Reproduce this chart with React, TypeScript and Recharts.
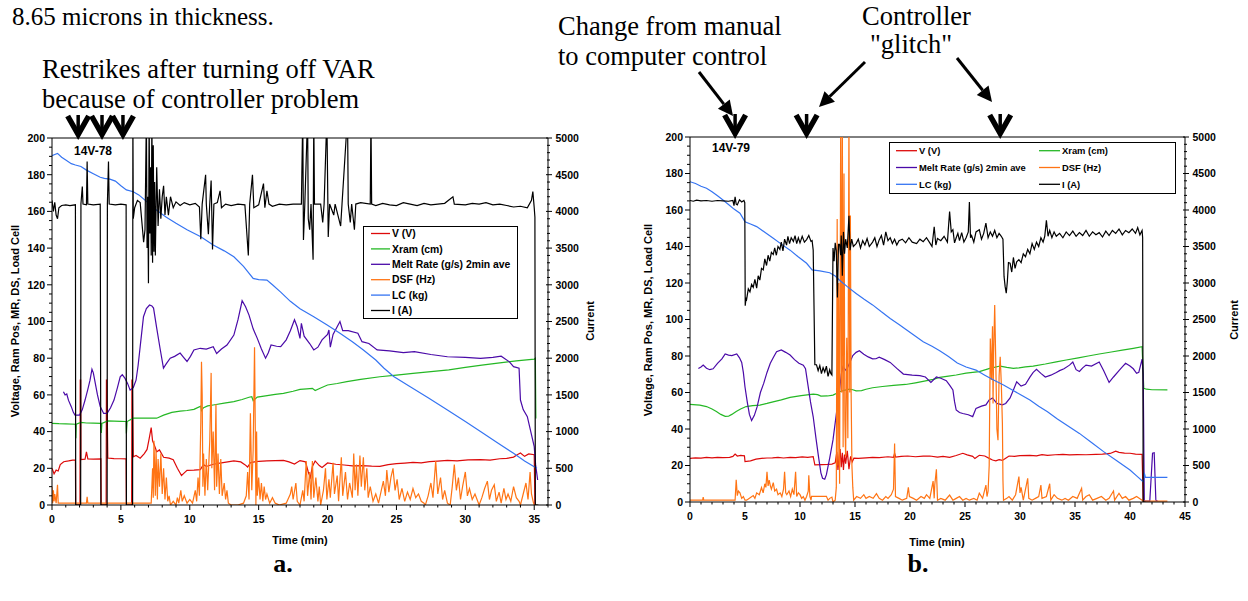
import React from "react";
import { LineChart, Line, XAxis, YAxis, ReferenceLine, ReferenceDot, Legend } from "recharts";

type Pt = [number, number];

const SANS = '"Liberation Sans", Arial, sans-serif';
const SERIF = '"Liberation Serif", "Times New Roman", serif';

// series names / colours, same order in both runs
const seriesNames = ["V (V)", "Xram (cm)", "Melt Rate (g/s) 2min ave", "DSF (Hz)", "LC (kg)", "I (A)"];
const seriesColors = ["#dd0a0a", "#25b825", "#4a0aa8", "#ff7414", "#3574f2", "#000000"];

// tick labels
const yLeftLabels = [0, 20, 40, 60, 80, 100, 120, 140, 160, 180, 200];
const yRightLabels = [0, 500, 1000, 1500, 2000, 2500, 3000, 3500, 4000, 4500, 5000];
const xLabelsA = [0, 5, 10, 15, 20, 25, 30, 35];
const xLabelsB = [0, 5, 10, 15, 20, 25, 30, 35, 40, 45];

// ---------------- run 14V-78 (a) ----------------
const aV: Pt[] = [
  [0, 20], [0.15, 17], [0.3, 19], [0.45, 18.5], [0.6, 22], [0.85, 23.6], [1.2, 24], [1.5, 24.5], [1.7, 24.5], [1.72, 0],
  [2.03, 0], [2.05, 68], [2.08, 68], [2.1, 24.7], [2.4, 25], [2.5, 28.9], [2.6, 25.1], [3.0, 25], [3.55, 25.1], [3.57, 0],
  [3.93, 0], [3.95, 68], [3.98, 68], [4.05, 25.6], [4.5, 25.3], [5.0, 25.2], [5.38, 25.1], [5.4, 0], [5.78, 0], [5.8, 68],
  [5.83, 68], [5.9, 26.3], [6.1, 27], [6.4, 25.5], [6.7, 28], [6.9, 30.3], [7.05, 36], [7.2, 42.2], [7.3, 35], [7.45, 32.2],
  [7.6, 29], [7.8, 30], [8.1, 26], [8.5, 25.5], [8.8, 24.7], [9.1, 20], [9.4, 16.1], [9.6, 17.5], [9.8, 18.9], [10.3, 19],
  [10.76, 19.3], [11.0, 22], [11.2, 21], [11.7, 22.2], [12.3, 23], [13.2, 24], [13.7, 23.5], [14.0, 22], [14.2, 20.7], [14.4, 23],
  [14.6, 23.4], [15.0, 23.8], [15.6, 24], [16.2, 24.2], [16.8, 24.3], [17.2, 23.5], [17.6, 22.3], [18.0, 24.2], [18.4, 23.5], [18.6, 18],
  [18.75, 15], [18.9, 21], [19.1, 24], [19.4, 21.5], [19.6, 20.5], [20.0, 22.9], [20.6, 22.2], [21.2, 21.8], [21.8, 21.3], [22.5, 21.5],
  [23.2, 21.2], [23.8, 21.1], [24.4, 22], [25.0, 22.5], [25.6, 22.8], [26.2, 23.2], [26.8, 23], [27.4, 23.6], [28.0, 23.9], [28.7, 24.3],
  [29.4, 24.1], [30.2, 24.6], [31.1, 24.7], [31.8, 24.5], [32.5, 25.2], [33.0, 25.4], [33.5, 26.1], [33.8, 27.5], [34.0, 28.3], [34.3, 26.5],
  [34.6, 27.8], [35.0, 27.4], [35.05, 0],
];
const aXram: Pt[] = [
  [0, 44.5], [0.5, 44.3], [1.0, 44.2], [1.7, 44], [1.73, 36.3], [1.76, 44], [2.1, 45], [2.5, 44.7], [3.0, 44.6], [3.55, 44.5],
  [3.58, 39.3], [3.62, 44.5], [4.05, 45.8], [4.5, 45.7], [5.0, 45.6], [5.38, 45.5], [5.4, 39], [5.45, 45.5], [5.9, 47.3], [6.5, 47.3],
  [7.0, 47.3], [7.6, 47.3], [8.1, 49], [8.7, 50.5], [9.3, 51.2], [9.8, 51.5], [10.3, 52.1], [10.8, 53.9], [10.85, 51.5], [11.0, 53],
  [11.3, 54], [11.7, 54.5], [12.5, 55.5], [13.2, 56.3], [13.8, 57.5], [14.3, 58.7], [14.5, 59], [14.6, 56.8], [14.9, 58.8], [15.5, 59.5],
  [16.2, 60.3], [16.8, 60.8], [17.5, 62], [18.0, 63], [18.5, 63.3], [18.9, 63.6], [19.1, 62.4], [19.5, 63.8], [20.0, 65.4], [20.7, 66.2],
  [21.4, 67.2], [22.4, 68.5], [23.8, 69.9], [25.0, 70.8], [26.2, 71.7], [27.5, 72.7], [28.8, 73.6], [30, 75], [31.2, 76.2], [32.5, 77.5],
  [33.7, 78.5], [35.0, 79.5], [35.08, 80], [35.12, 47.2],
];
const aMelt: Pt[] = [
  [0.83, 61.7], [0.95, 60], [1.07, 60.5], [1.2, 57], [1.4, 53.6], [1.55, 50.5], [1.67, 49], [2.0, 49], [2.2, 52], [2.4, 57.2],
  [2.6, 63], [2.76, 68], [2.9, 74], [3.0, 72], [3.15, 66], [3.3, 60], [3.5, 53.6], [3.75, 49.9], [4.0, 49.9], [4.25, 53],
  [4.5, 57.2], [4.75, 64], [4.95, 69.9], [5.1, 71], [5.3, 69], [5.5, 66], [5.67, 62.6], [5.9, 64], [6.1, 68], [6.25, 76],
  [6.4, 86.3], [6.64, 102.6], [6.85, 107], [7.08, 109], [7.25, 108.5], [7.37, 107.3], [7.6, 96.4], [7.85, 85], [8.09, 74.6], [8.3, 77],
  [8.58, 80], [8.9, 81], [9.3, 82.8], [9.55, 80.5], [9.8, 78.2], [10.05, 81], [10.3, 84.5], [10.76, 85.4], [11.2, 85], [11.7, 86.3],
  [11.95, 82.6], [12.3, 85], [12.7, 87.2], [13.2, 92.6], [13.5, 101], [13.8, 111.3], [14.05, 108], [14.3, 103.5], [14.6, 96], [14.9, 90.8],
  [15.2, 85], [15.5, 80], [15.7, 83], [15.9, 87.2], [16.3, 86.5], [16.6, 86.3], [17.0, 90], [17.3, 95], [17.6, 101], [17.8, 97],
  [18.0, 90.8], [18.1, 99], [18.3, 92], [18.7, 88], [19.0, 84.5], [19.3, 86], [19.6, 90], [20.0, 93], [20.1, 95.4], [20.2, 86],
  [20.4, 93], [20.9, 100], [21.1, 95], [21.5, 95], [22.2, 93.6], [22.5, 89], [23.0, 88], [23.6, 84.5], [24.5, 84], [25.5, 83],
  [26.3, 83.6], [27.5, 82], [28.7, 80.8], [30, 80.5], [31.1, 79.9], [32.0, 80.5], [32.6, 81.1], [33.2, 78], [33.5, 75.4], [33.9, 74.5],
  [34.0, 57.2], [34.2, 52], [34.5, 48.1], [34.75, 40], [35.0, 31.8], [35.1, 22], [35.25, 13.6],
];
const aDsf: Pt[] = [
  [0, 10], [0.05, 1], [0.1, 8], [0.15, 2], [0.2, 6], [0.3, 1], [0.4, 11], [0.45, 1], [1.0, 1], [1.7, 1],
  [2.5, 1], [2.55, 4.5], [2.6, 1], [3.5, 1], [5, 1], [6, 1], [7.2, 1], [7.3, 20], [7.35, 4], [7.4, 35],
  [7.5, 5], [7.55, 30], [7.65, 3], [7.7, 25], [7.8, 10], [7.9, 28], [8.0, 6], [8.1, 20], [8.2, 3], [8.3, 15],
  [8.4, 2], [8.5, 5], [8.6, 0], [8.8, 2], [9.0, 0], [9.1, 4], [9.2, 1], [9.35, 8], [9.45, 2], [9.6, 5],
  [9.8, 1], [10.0, 3], [10.2, 1], [10.4, 8], [10.5, 2], [10.6, 15], [10.7, 5], [10.8, 45], [10.85, 78], [10.9, 60],
  [10.95, 10], [11.0, 28], [11.1, 5], [11.2, 25], [11.3, 8], [11.45, 35], [11.55, 72], [11.6, 20], [11.7, 40], [11.8, 8],
  [11.9, 55], [11.95, 10], [12.05, 28], [12.15, 6], [12.25, 25], [12.35, 5], [12.5, 12], [12.6, 3], [12.7, 8], [12.8, 1],
  [13.0, 0], [13.5, 0], [13.9, 1], [14.1, 5], [14.2, 18], [14.3, 3], [14.4, 50], [14.5, 8], [14.6, 30], [14.7, 86],
  [14.75, 45], [14.8, 0], [14.85, 40], [14.9, 5], [15.0, 15], [15.1, 3], [15.2, 12], [15.3, 2], [15.4, 10], [15.5, 3],
  [15.6, 6], [15.8, 1], [16.0, 4], [16.2, 1], [16.5, 0], [17.0, 1], [17.3, 6], [17.4, 10], [17.5, 3], [17.7, 12],
  [17.8, 2], [18.0, 0], [18.2, 8], [18.3, 2], [18.45, 24], [18.55, 5], [18.7, 18], [18.8, 3], [18.9, 24], [19.0, 4],
  [19.15, 15], [19.3, 2], [19.4, 10], [19.5, 0], [19.7, 8], [19.85, 20], [19.95, 3], [20.1, 14], [20.2, 4], [20.4, 23],
  [20.5, 6], [20.7, 16], [20.8, 2], [21.0, 26], [21.1, 5], [21.3, 18], [21.45, 3], [21.6, 12], [21.8, 4], [21.9, 28],
  [22.0, 8], [22.1, 22], [22.2, 5], [22.35, 27], [22.45, 10], [22.6, 26], [22.7, 8], [22.85, 20], [22.95, 4], [23.1, 10],
  [23.3, 2], [23.5, 6], [23.7, 1], [23.9, 8], [24.05, 13], [24.2, 5], [24.3, 19], [24.45, 7], [24.6, 15], [24.75, 20],
  [24.9, 8], [25.05, 14], [25.2, 3], [25.4, 9], [25.6, 2], [25.8, 7], [26.0, 3], [26.2, 9], [26.4, 4], [26.6, 6],
  [26.8, 2], [27.0, 1], [27.1, 0], [27.3, 5], [27.5, 12], [27.65, 4], [27.85, 24], [28.0, 6], [28.2, 15], [28.35, 3],
  [28.5, 8], [28.7, 1], [28.9, 0], [29.05, 10], [29.2, 22], [29.35, 8], [29.5, 15], [29.65, 3], [29.8, 10], [30.0, 18],
  [30.15, 5], [30.3, 9], [30.5, 3], [30.7, 6], [31.0, 0], [31.2, 4], [31.4, 9], [31.6, 13], [31.75, 3], [31.9, 8],
  [32.1, 11], [32.25, 2], [32.45, 7], [32.6, 1], [32.8, 9], [32.95, 3], [33.1, 6], [33.3, 2], [33.5, 10], [33.7, 4],
  [33.9, 2], [34.0, 0], [34.2, 6], [34.4, 12], [34.55, 3], [34.7, 18], [34.8, 6], [34.95, 1], [35.0, 0], [35.2, 0],
];
const aLc: Pt[] = [
  [0, 190.4], [0.2, 191], [0.4, 191.6], [0.7, 189.5], [1.0, 188], [1.4, 186], [1.7, 185.3], [2.1, 184.5], [2.5, 182.5], [3.0, 180.5],
  [3.5, 178.6], [3.8, 178], [4.2, 177.6], [4.6, 176.5], [5.0, 174], [5.4, 171.7], [5.9, 170.7], [6.3, 169], [6.6, 167.1], [7.0, 164.5],
  [7.4, 161.7], [7.9, 159], [8.3, 156.8], [9.0, 153.5], [9.8, 150], [10.8, 146.2], [11.7, 141.7], [12.5, 138.5], [13.2, 135.3], [13.9, 130],
  [14.6, 123.5], [15.0, 122.8], [15.6, 122.6], [16.0, 120], [16.6, 116], [17.3, 111], [18.0, 107], [19.0, 102.6], [20.0, 98], [20.9, 93.6],
  [21.8, 89], [22.6, 84.5], [23.5, 79], [24.1, 74.5], [24.8, 70], [26.0, 64.5], [27.3, 58.5], [28.7, 51.8], [30.0, 45.5], [31.1, 40],
  [32.3, 34], [33.5, 28.2], [34.3, 24], [35.0, 20.9], [35.2, 20],
];
const aCurrent: Pt[] = [
  [0, 4150], [0.1, 4000], [0.2, 4125], [0.3, 3950], [0.4, 3900], [0.5, 4050], [0.7, 4080], [1, 4090], [1.3, 4080], [1.7, 4090],
  [1.72, 0], [2.08, 0], [2.1, 4100], [2.2, 4340], [2.25, 4100], [2.5, 4090], [2.55, 4680], [2.6, 4100], [3.0, 4090], [3.5, 4100],
  [3.55, 0], [4.0, 0], [4.02, 4100], [4.1, 4680], [4.15, 4100], [4.6, 4090], [5.0, 4100], [5.38, 4090], [5.4, 0], [5.85, 0],
  [5.87, 5300], [5.9, 3900], [6.0, 4050], [6.2, 4150], [6.4, 4120], [6.55, 3800], [6.65, 3580], [6.75, 3750], [6.85, 5300], [6.9, 3500],
  [6.95, 4200], [7.0, 3020], [7.05, 5300], [7.1, 3700], [7.15, 4600], [7.2, 3400], [7.25, 5300], [7.3, 3300], [7.35, 4900], [7.4, 3450],
  [7.45, 4400], [7.5, 3400], [7.6, 4600], [7.7, 3800], [7.8, 4300], [7.9, 3900], [8.0, 4200], [8.1, 4350], [8.2, 3950], [8.3, 4200],
  [8.45, 3950], [8.6, 4200], [8.8, 4050], [9.0, 4130], [9.3, 4080], [9.6, 4120], [10.0, 4090], [10.4, 4110], [10.7, 4060], [10.8, 3620],
  [10.9, 4100], [11.15, 4500], [11.2, 4100], [11.35, 3690], [11.45, 4100], [11.55, 4420], [11.65, 3480], [11.75, 4100], [12.0, 4120], [12.2, 4280],
  [12.3, 4050], [12.6, 4100], [13.0, 4080], [13.5, 4100], [14.0, 4090], [14.25, 3400], [14.35, 4100], [14.55, 4500], [14.65, 4050], [15.0, 4090],
  [15.35, 4380], [15.45, 4050], [15.6, 4280], [15.75, 4100], [16, 4070], [16.5, 4100], [17, 4090], [17.5, 4100], [18.1, 4100], [18.2, 5300],
  [18.25, 3610], [18.35, 4100], [18.55, 5300], [18.6, 3900], [18.7, 3750], [18.8, 4100], [18.95, 3340], [19.0, 5300], [19.05, 4100], [19.5, 4100],
  [19.65, 3850], [19.75, 4100], [19.95, 5300], [20.05, 3650], [20.15, 4100], [20.45, 3950], [20.55, 4100], [20.95, 3800], [21.05, 4100], [21.45, 5300],
  [21.5, 4100], [21.65, 3850], [21.75, 4100], [21.95, 3750], [22.05, 4100], [22.4, 4120], [23.1, 4100], [23.15, 5300], [23.2, 4100], [23.5, 4080],
  [24, 4110], [24.5, 4090], [25, 4080], [25.5, 4120], [26, 4100], [26.5, 4080], [27, 4110], [27.5, 4090], [28, 4100], [28.5, 4110],
  [29.1, 4200], [29.2, 4100], [30, 4090], [30.5, 4110], [31, 4100], [31.5, 4120], [32, 4090], [32.5, 4100], [33, 4080], [33.5, 4060],
  [34, 4070], [34.5, 4050], [34.8, 4150], [34.9, 4270], [35.0, 4050], [35.05, 3920], [35.08, 0], [35.3, 0],
];

// ---------------- run 14V-79 (b) ----------------
const bV: Pt[] = [
  [0, 23.9], [0.5, 24.2], [1, 24], [1.5, 24.4], [2, 24.2], [2.5, 24.5], [3, 24.3], [3.6, 24.5], [3.9, 25], [4.1, 26.3],
  [4.3, 25.2], [4.6, 25.5], [4.95, 25.3], [5.0, 22.1], [5.5, 22.5], [6.0, 23.5], [6.5, 23.9], [7, 24.1], [7.5, 24.2], [8, 24.4],
  [8.5, 24.1], [9.1, 24.5], [9.6, 24.3], [10.2, 24.7], [10.7, 24.5], [11.2, 24.8], [11.35, 20.3], [12.0, 20.5], [12.5, 20.6], [12.9, 20.8],
  [13.2, 21.5], [13.35, 27.5], [13.45, 17.5], [13.55, 25], [13.65, 29], [13.75, 19], [13.85, 27], [13.95, 17.5], [14.05, 26], [14.15, 21],
  [14.3, 28], [14.45, 18], [14.6, 25], [14.75, 22], [14.9, 24], [15.3, 23.9], [16, 24.2], [16.6, 24.5], [17.2, 24.3], [18, 24.8],
  [18.5, 24.5], [18.6, 26.7], [18.7, 24.6], [19.2, 25], [19.8, 25.2], [20.5, 24.8], [21.2, 25.1], [21.8, 25.2], [22.5, 24.6], [23.0, 25],
  [23.6, 24.5], [24.2, 25.5], [24.8, 26.7], [25.2, 25.8], [25.7, 25], [25.9, 23.8], [26.3, 25.6], [26.8, 25.2], [27.2, 23.9], [27.5, 23],
  [27.8, 22.6], [28.1, 23.2], [28.4, 22.8], [28.7, 24], [29, 25.2], [29.5, 25], [30, 25.4], [30.9, 25.6], [31.5, 25.3], [32, 26],
  [32.5, 25.6], [33.2, 25.9], [33.9, 26.1], [34.5, 25.8], [35.2, 26], [36, 25.9], [36.9, 26.1], [37.5, 26.2], [38.2, 26.6], [38.7, 27.9],
  [39.0, 27.2], [39.5, 26.8], [40.0, 26.7], [40.5, 26.2], [41.1, 26.1], [41.2, 0],
];
const bXram: Pt[] = [
  [0, 53.5], [0.9, 53.1], [1.5, 52.3], [2.0, 51], [2.4, 49.6], [2.8, 48], [3.2, 46.9], [3.5, 47], [3.8, 48], [4.2, 49.6],
  [4.6, 51], [5.1, 52.3], [5.7, 52.8], [6.35, 53.1], [7.0, 54], [7.55, 54.9], [8.3, 56], [9.1, 57.3], [10.1, 58.3], [11.2, 59.1],
  [11.6, 58.8], [11.9, 58], [12.5, 58.1], [13.0, 58.6], [13.3, 59.5], [13.6, 60.4], [14.0, 61.2], [14.5, 61.8], [14.8, 61.5], [15.1, 60.9],
  [15.6, 61], [16.0, 61.8], [16.6, 62.6], [17.5, 63.3], [18.5, 63.9], [19.6, 64.4], [20.5, 65.3], [21.3, 66.2], [22.1, 67.2], [22.7, 68.3],
  [23.5, 69], [24.2, 69.6], [25.1, 70.6], [26.3, 71.4], [27.25, 73.2], [28.2, 74.5], [28.8, 73.8], [29.4, 73.2], [29.9, 73.5], [30.5, 74],
  [31.2, 74.5], [32.3, 75.6], [33.3, 76.8], [34.2, 77.8], [35.3, 79], [36.2, 80], [37.2, 81.1], [38.3, 82.2], [39.3, 83.2], [40.3, 84.2],
  [41.1, 85.1], [41.25, 62.3], [41.5, 61.8], [42.0, 61.5], [43.4, 61.4],
];
const bMelt: Pt[] = [
  [0.76, 73.2], [1.0, 74], [1.2, 75], [1.5, 73.3], [1.8, 72.5], [2.1, 73], [2.5, 76], [2.9, 78.4], [3.2, 81.1], [3.5, 80.5],
  [3.8, 80.2], [4.25, 81.1], [4.5, 79], [4.7, 76.5], [4.85, 71], [5.0, 63], [5.2, 55], [5.4, 48], [5.6, 44.7], [5.85, 47.5],
  [6.1, 52.1], [6.4, 60], [6.7, 65], [7.0, 71], [7.3, 76], [7.6, 79.5], [7.87, 82.4], [8.3, 83.3], [8.7, 82], [9.1, 80.5],
  [9.5, 78], [9.9, 76], [10.3, 75], [10.5, 73], [10.7, 65], [10.95, 55], [11.2, 46.7], [11.45, 35], [11.7, 24], [11.9, 16],
  [12.05, 13], [12.25, 12.5], [12.4, 15], [12.7, 24], [13.0, 34], [13.3, 48], [13.6, 61.4], [13.75, 70], [13.9, 74.2], [14.2, 72],
  [14.5, 76], [14.8, 80.2], [15.1, 82], [15.4, 82.9], [15.8, 81], [16.2, 79.5], [16.6, 78.4], [16.9, 78.5], [17.2, 79.3], [17.7, 78],
  [18.2, 76.5], [18.8, 73.2], [19.4, 70.1], [20.2, 69.5], [20.9, 69.2], [21.4, 68.5], [21.9, 65.5], [22.4, 68.5], [22.8, 67.8], [23.3, 66.5],
  [23.6, 64], [23.9, 61.4], [24.05, 55], [24.2, 50.4], [24.5, 49], [24.8, 48.5], [25.3, 47.8], [25.7, 46.8], [26.0, 51.3], [26.5, 52.5],
  [26.9, 53.2], [27.2, 55.9], [27.5, 57], [27.9, 54], [28.4, 53.2], [28.7, 54], [29.1, 57], [29.4, 61.4], [29.7, 65.9], [30.1, 63.5],
  [30.5, 64.5], [30.9, 68.4], [31.2, 71], [31.5, 72.7], [31.9, 70.5], [32.3, 68.5], [32.8, 69.5], [33.3, 71], [33.6, 72], [34.0, 73],
  [34.5, 75], [34.8, 76.7], [35.1, 72.5], [35.4, 71.5], [35.7, 73.5], [36.0, 75], [36.5, 74.5], [37.2, 76.7], [37.6, 72], [38.1, 65.5],
  [38.5, 68.5], [39.0, 72], [39.3, 74], [39.6, 76], [40.0, 74.5], [40.3, 73], [40.6, 70.5], [40.8, 71], [41.1, 78.3], [41.2, 70],
  [41.3, 0.5], [41.8, 0.5], [42.05, 26.7], [42.2, 27], [42.35, 1], [42.5, 0.5],
];
const bDsf: Pt[] = [
  [0, 1], [1.15, 1], [1.2, 2.7], [1.25, 1], [2, 1], [3, 1], [4.1, 1], [4.2, 12.2], [4.3, 3.5], [4.4, 6],
  [4.54, 5], [4.7, 2], [4.85, 3], [5.0, 1], [5.15, 1], [5.4, 2], [5.75, 3.5], [5.9, 2], [6.06, 5], [6.3, 4],
  [6.5, 7.9], [6.65, 5], [6.8, 10], [6.9, 8], [7.0, 16.5], [7.1, 8.8], [7.2, 12], [7.3, 9], [7.4, 7], [7.57, 10.6],
  [7.7, 6], [7.87, 7], [8.0, 4], [8.2, 5], [8.35, 3], [8.5, 7], [8.6, 16.5], [8.7, 5], [8.8, 4], [9.0, 6],
  [9.15, 3], [9.3, 7], [9.45, 4], [9.6, 16.5], [9.7, 3], [9.85, 5], [10.0, 4], [10.15, 2], [10.3, 3], [10.45, 1],
  [10.6, 3], [10.75, 6], [10.8, 14.6], [10.9, 3], [11.0, 1], [11.05, 3.1], [11.5, 3.1], [12.0, 3.1], [12.4, 3.1], [12.55, 1],
  [12.7, 2], [12.9, 2.7], [13.0, 0], [13.2, 1], [13.3, 8], [13.38, 155], [13.45, 20], [13.52, 120], [13.6, 10], [13.7, 210],
  [13.78, 60], [13.85, 210], [13.92, 30], [14.0, 180], [14.08, 45], [14.15, 25], [14.25, 90], [14.35, 35], [14.45, 210], [14.52, 60],
  [14.58, 157], [14.65, 58.6], [14.72, 20], [14.8, 8], [14.88, 1], [15.15, 3], [15.5, 2], [15.8, 4], [16.0, 2], [16.3, 3],
  [16.65, 2], [16.95, 4.6], [17.2, 2], [17.5, 1], [17.8, 3], [18.0, 2], [18.3, 4], [18.5, 7], [18.6, 32], [18.68, 3],
  [19.0, 2], [19.3, 1], [19.7, 2], [19.85, 8.1], [19.95, 3], [20.3, 2], [20.6, 1], [21.0, 3], [21.3, 2], [21.5, 4],
  [21.8, 2], [22.1, 11.5], [22.2, 2], [22.25, 9.3], [22.4, 17.9], [22.5, 1], [22.8, 2], [23.2, 1], [23.6, 3.8], [23.9, 1],
  [24.2, 2], [24.5, 3], [24.8, 1], [25.1, 2], [25.4, 1], [25.8, 2], [26.1, 1], [26.3, 4.8], [26.6, 2], [26.9, 9.3],
  [27.0, 3], [27.1, 6], [27.2, 20], [27.3, 89.6], [27.4, 66.8], [27.5, 96.3], [27.55, 54], [27.6, 80], [27.7, 108], [27.8, 76],
  [27.9, 40], [28.0, 33.9], [28.1, 69], [28.2, 79.6], [28.3, 65], [28.4, 43], [28.45, 12], [28.5, 1], [28.8, 2], [29.0, 3],
  [29.3, 1], [29.6, 4], [29.9, 13.9], [30.0, 5], [30.1, 8], [30.3, 1], [30.7, 13], [30.8, 2], [31.1, 1], [31.4, 2],
  [31.7, 3], [31.9, 9.3], [32.0, 2], [32.4, 3], [32.7, 10], [32.8, 1], [33.1, 4], [33.4, 2], [33.8, 1], [34.1, 2],
  [34.4, 1], [34.8, 3], [35.2, 2], [35.6, 7.5], [35.7, 1], [36.0, 3], [36.3, 4], [36.6, 1], [37.0, 2], [37.4, 3],
  [37.8, 1], [38.1, 2], [38.5, 6], [38.6, 1], [39.0, 4.8], [39.3, 2], [39.6, 3], [39.9, 1], [40.3, 2], [40.6, 3],
  [41.1, 1], [41.3, 0.5], [42.0, 0.5], [43.4, 0.5],
];
const bLc: Pt[] = [
  [0, 175.5], [0.5, 174.5], [1.0, 173], [1.5, 171.9], [2.0, 170], [2.5, 167.8], [3.0, 165.5], [3.5, 163], [4.0, 160.5], [4.54, 158.2],
  [5.0, 153.6], [5.5, 152.3], [6.06, 150.9], [6.8, 147.8], [7.57, 144.5], [8.3, 141.3], [9.1, 138], [9.8, 134.5], [10.6, 130.8], [11.1, 127.2],
  [11.8, 126.6], [12.7, 125.6], [13.2, 123.8], [13.6, 121.5], [14.3, 118], [15.1, 114.3], [15.8, 111.2], [16.6, 108], [17.4, 104.2], [18.2, 100.6],
  [19.0, 97.3], [19.7, 94.2], [20.5, 90.8], [21.2, 87.8], [22.0, 85.3], [22.7, 82.9], [23.5, 79.7], [24.3, 76.2], [25.1, 74], [26.0, 72.3],
  [26.8, 69.5], [27.6, 66.8], [28.5, 64.1], [29.3, 61.4], [30.1, 58.6], [30.9, 55.9], [31.7, 52.5], [32.5, 49.5], [33.4, 45.5], [34.4, 41.5],
  [35.4, 37.6], [36.5, 32.6], [37.6, 27.6], [38.8, 22.6], [40.0, 17.5], [40.6, 14.3], [41.2, 11.1], [41.3, 16], [41.4, 13.5], [42.0, 13.5],
  [43.4, 13.5],
];
const bCurrent: Pt[] = [
  [0, 4130], [0.3, 4120], [0.6, 4135], [1, 4125], [1.5, 4130], [2, 4120], [2.5, 4130], [3, 4125], [3.5, 4120], [3.9, 4130],
  [4.0, 4060], [4.1, 4180], [4.2, 4080], [4.3, 4070], [4.5, 4140], [4.7, 4110], [4.9, 4130], [4.98, 4100], [5.02, 2690], [5.1, 2800],
  [5.15, 2780], [5.3, 2920], [5.45, 2880], [5.6, 2980], [5.75, 2940], [5.9, 3050], [6.06, 2930], [6.2, 3100], [6.35, 3040], [6.5, 3200],
  [6.66, 3180], [6.8, 3330], [6.96, 3240], [7.1, 3380], [7.25, 3300], [7.4, 3420], [7.57, 3390], [7.7, 3480], [7.85, 3380], [8.0, 3500],
  [8.17, 3460], [8.3, 3560], [8.45, 3440], [8.6, 3600], [8.78, 3520], [8.9, 3640], [9.05, 3540], [9.2, 3620], [9.4, 3570], [9.55, 3650],
  [9.7, 3540], [9.85, 3620], [10.0, 3550], [10.2, 3640], [10.4, 3560], [10.6, 3595], [10.8, 3650], [11.0, 3570], [11.1, 3580], [11.2, 3450],
  [11.35, 1880], [11.5, 1880], [11.65, 1800], [11.8, 1870], [11.95, 1760], [12.1, 1840], [12.25, 1780], [12.4, 1860], [12.55, 1720], [12.7, 1810],
  [12.8, 1760], [12.9, 1740], [13.0, 3480], [13.1, 3300], [13.2, 3550], [13.3, 3440], [13.4, 2800], [13.5, 3530], [13.6, 3530], [13.7, 3380],
  [13.75, 3650], [13.85, 3100], [13.95, 3700], [14.05, 3400], [14.15, 3600], [14.3, 3480], [14.45, 3920], [14.55, 3450], [14.7, 3600], [14.85, 3500],
  [15.1, 3540], [15.3, 3600], [15.5, 3480], [15.7, 3580], [15.9, 3520], [16.1, 3610], [16.3, 3500], [16.6, 3560], [16.8, 3620], [17.0, 3500],
  [17.2, 3590], [17.4, 3650], [17.6, 3520], [17.8, 3700], [18.0, 3580], [18.2, 3620], [18.4, 3540], [18.6, 3600], [18.8, 3520], [19.0, 3580],
  [19.3, 3600], [19.6, 3550], [19.9, 3620], [20.2, 3560], [20.6, 3540], [20.9, 3600], [21.2, 3565], [21.5, 3620], [21.8, 3550], [22.0, 3500],
  [22.2, 3770], [22.35, 3520], [22.5, 3610], [22.8, 3580], [23.1, 3640], [23.4, 3560], [23.6, 3980], [23.75, 3700], [23.9, 3730], [24.05, 3550],
  [24.2, 3620], [24.35, 3680], [24.5, 3580], [24.7, 3690], [24.9, 3560], [25.1, 3620], [25.3, 3700], [25.4, 4110], [25.5, 3620], [25.6, 3650],
  [25.8, 3560], [26.0, 3700], [26.3, 3730], [26.5, 3600], [26.7, 3680], [26.9, 3820], [27.1, 3620], [27.3, 3700], [27.5, 3640], [27.7, 3720],
  [27.9, 3620], [28.1, 3680], [28.3, 3640], [28.45, 3600], [28.55, 3090], [28.65, 2950], [28.75, 2860], [28.85, 3020], [28.95, 3280], [29.1, 3270],
  [29.25, 3150], [29.4, 3350], [29.55, 3200], [29.7, 3290], [29.9, 3320], [30.1, 3280], [30.3, 3400], [30.5, 3360], [30.7, 3460], [30.9, 3400],
  [31.1, 3540], [31.3, 3460], [31.5, 3560], [31.7, 3500], [31.9, 3620], [32.1, 3560], [32.25, 3640], [32.4, 3860], [32.55, 3640], [32.7, 3720],
  [32.9, 3620], [33.1, 3700], [33.3, 3640], [33.6, 3680], [33.9, 3620], [34.2, 3700], [34.5, 3650], [34.8, 3710], [35.1, 3640], [35.4, 3690],
  [35.7, 3650], [36.0, 3720], [36.3, 3640], [36.6, 3700], [36.9, 3660], [37.2, 3690], [37.5, 3630], [37.8, 3710], [38.1, 3650], [38.4, 3720],
  [38.7, 3680], [39.0, 3740], [39.3, 3660], [39.6, 3720], [39.9, 3690], [40.2, 3740], [40.5, 3680], [40.7, 3760], [40.9, 3660], [41.1, 3720],
  [41.15, 3620], [41.2, 0], [41.4, 0],
];

// arrow positions (time, min) at the top edge of each plot
const chevronsA = [1.9, 3.63, 5.15];
const chevronsB = [4.1, 10.6, 28.2];

const toRows = (pts: Pt[]) => pts.map(([t, v]) => ({ t, v }));
const range = (n: number, step: number) => Array.from({ length: n }, (_, i) => i * step);

function Chevron({ cx, cy }: { cx: number; cy: number }) {
  return (
    <g transform={`translate(${cx},${cy - 2})`}>
      <path d="M -10.5 -20 L 0 -1.5 L 10.5 -20" stroke="#000" strokeWidth={5.5} fill="none" />
      <path d="M 0 -21 L 0 -4" stroke="#000" strokeWidth={3.5} />
    </g>
  );
}

type LegendCfg = { left: number; top: number; w: number; h: number; cols: number[]; rowY: number; rowH: number; lineLen: number; fontSize: number };

function LegendBox({ cfg }: { cfg: LegendCfg }) {
  const n = cfg.cols.length;
  return (
    <svg width={cfg.w} height={cfg.h} style={{ display: "block" }}>
      <rect x={0.5} y={0.5} width={cfg.w - 1} height={cfg.h - 1} fill="#fff" stroke="#000" strokeWidth={1} />
      {seriesNames.map((name, i) => {
        const x = cfg.cols[i % n];
        const y = cfg.rowY + Math.floor(i / n) * cfg.rowH;
        return (
          <g key={name}>
            <line x1={x} x2={x + cfg.lineLen} y1={y} y2={y} stroke={seriesColors[i]} strokeWidth={1.3} />
            <text x={x + cfg.lineLen + 2} y={y + cfg.fontSize * 0.36} fontSize={cfg.fontSize} fontWeight="bold" fontFamily={SANS} fill="#000">
              {name}
            </text>
          </g>
        );
      })}
    </svg>
  );
}

type PanelProps = {
  left: number; top: number; width: number; height: number;
  margin: { top: number; right: number; bottom: number; left: number };
  leftW: number; rightW: number; xMax: number; xLabels: number[];
  series: Pt[][]; chevrons: number[]; legend: LegendCfg;
};

function Panel(p: PanelProps) {
  const plotLeft = p.margin.left + p.leftW;
  const plotRight = p.width - p.margin.right - p.rightW;
  const plotBottom = p.height - p.margin.bottom - 30;
  const tickFont = { fontSize: 10.5, fontWeight: "bold" as const, fontFamily: SANS, fill: "#000" };

  const xTick = (t: any) => {
    const v = t.payload.value;
    const major = p.xLabels.includes(v);
    return (
      <g>
        <line x1={t.x} x2={t.x} y1={plotBottom} y2={plotBottom + (major ? 5 : 2.5)} stroke="#000" />
        {major && <text x={t.x} y={plotBottom + 18} textAnchor="middle" {...tickFont}>{v}</text>}
      </g>
    );
  };
  const yLeftTick = (t: any) => {
    const v = t.payload.value;
    const major = yLeftLabels.includes(v);
    return (
      <g>
        <line x1={plotLeft - (major ? 5 : 3)} x2={plotLeft} y1={t.y} y2={t.y} stroke="#000" />
        {major && <text x={plotLeft - 7} y={t.y + 3.8} textAnchor="end" {...tickFont}>{v}</text>}
      </g>
    );
  };
  const yRightTick = (t: any) => {
    const v = t.payload.value;
    const major = yRightLabels.includes(v);
    return (
      <g>
        <line x1={plotRight - (major ? 2 : 1)} x2={plotRight + (major ? 4 : 2)} y1={t.y} y2={t.y} stroke="#000" />
        {major && <text x={plotRight + 7.5} y={t.y + 3.8} textAnchor="start" {...tickFont}>{v}</text>}
      </g>
    );
  };

  return (
    <div style={{ position: "absolute", left: p.left, top: p.top }}>
      <LineChart width={p.width} height={p.height} margin={p.margin}>
        <XAxis type="number" dataKey="t" domain={[0, p.xMax]} ticks={range(p.xMax + 1, 1)} interval={0}
          tickLine={false} tick={xTick} axisLine={{ stroke: "#000" }} height={30} allowDataOverflow />
        <YAxis yAxisId="left" domain={[0, 200]} ticks={range(41, 5)} interval={0} width={p.leftW}
          tickLine={false} tick={yLeftTick} axisLine={{ stroke: "#000" }} allowDataOverflow />
        <YAxis yAxisId="right" orientation="right" domain={[0, 5000]} ticks={range(51, 100)} interval={0} width={p.rightW}
          tickLine={false} tick={yRightTick} axisLine={{ stroke: "#000" }} allowDataOverflow />
        <ReferenceLine yAxisId="left" y={200} stroke="#000" />
        {p.series.map((pts, i) => (
          <Line key={seriesNames[i]} name={seriesNames[i]} data={toRows(pts)} dataKey="v" type="linear"
            yAxisId={i === 5 ? "right" : "left"} stroke={seriesColors[i]} strokeWidth={1.2}
            dot={false} activeDot={false} isAnimationActive={false} />
        ))}
        {p.chevrons.map((t) => (
          <ReferenceDot key={t} yAxisId="left" x={t} y={200} r={0}
            shape={(s: any) => <Chevron cx={s.cx} cy={s.cy} />} />
        ))}
        <Legend layout="horizontal" verticalAlign="middle" align="center"
          wrapperStyle={{ position: "absolute", left: p.legend.left, top: p.legend.top, width: p.legend.w, height: p.legend.h }}
          content={() => <LegendBox cfg={p.legend} />} />
      </LineChart>
    </div>
  );
}

function Arrow({ x1, y1, x2, y2 }: { x1: number; y1: number; x2: number; y2: number }) {
  const a = Math.atan2(y2 - y1, x2 - x1);
  const L = 15, W = 7.5;
  const bx = x2 - L * Math.cos(a), by = y2 - L * Math.sin(a);
  const px = -Math.sin(a) * W, py = Math.cos(a) * W;
  return (
    <g>
      <line x1={x1} y1={y1} x2={bx} y2={by} stroke="#000" strokeWidth={3} />
      <polygon points={`${x2},${y2} ${bx + px},${by + py} ${bx - px},${by - py}`} fill="#000" />
    </g>
  );
}

export default function App() {
  const axisTitle = { fontSize: 11, fontWeight: "bold" as const, fontFamily: SANS, fill: "#000" };
  const note = { fontSize: 26.5, fontFamily: SERIF, fill: "#000" };
  return (
    <div style={{ position: "absolute", left: 0, top: 0, width: 1248, height: 601, overflow: "hidden", background: "#fff", fontFamily: SANS }}>
      <Panel left={0} top={100} width={600} height={440} margin={{ top: 38, right: 7, bottom: 5, left: 0 }}
        leftW={52} rightW={45} xMax={36} xLabels={xLabelsA}
        series={[aV, aXram, aMelt, aDsf, aLc, aCurrent]} chevrons={chevronsA}
        legend={{ left: 363, top: 126, w: 155, h: 93, cols: [8], rowY: 7.5, rowH: 15.4, lineLen: 19, fontSize: 10.4 }} />
      <Panel left={640} top={100} width={608} height={440} margin={{ top: 37, right: 13, bottom: 8, left: 0 }}
        leftW={50} rightW={50} xMax={45} xLabels={xLabelsB}
        series={[bV, bXram, bMelt, bDsf, bLc, bCurrent]} chevrons={chevronsB}
        legend={{ left: 249, top: 42, w: 287, h: 52, cols: [7, 150], rowY: 8.7, rowH: 16.8, lineLen: 21, fontSize: 9.4 }} />

      <svg width={1248} height={601} style={{ position: "absolute", left: 0, top: 0, pointerEvents: "none" }}>
        <text x={12} y={25} fontSize={25} fontFamily={SERIF}>8.65 microns in thickness.</text>
        <text x={42} y={78} {...note}>Restrikes after turning off VAR</text>
        <text x={42} y={108} {...note}>because of controller problem</text>
        <text x={558} y={35} {...note}>Change from manual</text>
        <text x={558} y={65} {...note}>to computer control</text>
        <text x={862} y={25} {...note}>Controller</text>
        <text x={870} y={53} {...note}>"glitch"</text>
        <Arrow x1={699} y1={72} x2={733} y2={116} />
        <Arrow x1={865} y1={62} x2={819} y2={107} />
        <Arrow x1={957} y1={58} x2={992} y2={102} />

        <text x={74} y={154.5} fontSize={12} fontWeight="bold" fontFamily={SANS}>14V-78</text>
        <text x={712} y={151.5} fontSize={12} fontWeight="bold" fontFamily={SANS}>14V-79</text>

        <text transform="translate(19,321) rotate(-90)" textAnchor="middle" {...axisTitle}>Voltage, Ram Pos, MR, DS, Load Cell</text>
        <text transform="translate(594,321) rotate(-90)" textAnchor="middle" {...axisTitle}>Current</text>
        <text transform="translate(652,320) rotate(-90)" textAnchor="middle" {...axisTitle}>Voltage, Ram Pos, MR, DS, Load Cell</text>
        <text transform="translate(1238,320) rotate(-90)" textAnchor="middle" {...axisTitle}>Current</text>
        <text x={300} y={544} textAnchor="middle" {...axisTitle}>Time (min)</text>
        <text x={937} y={546} textAnchor="middle" {...axisTitle}>Time (min)</text>

        <text x={283} y={572} textAnchor="middle" fontSize={26} fontWeight="bold" fontFamily={SERIF}>a.</text>
        <text x={918} y={572} textAnchor="middle" fontSize={26} fontWeight="bold" fontFamily={SERIF}>b.</text>
      </svg>
    </div>
  );
}
